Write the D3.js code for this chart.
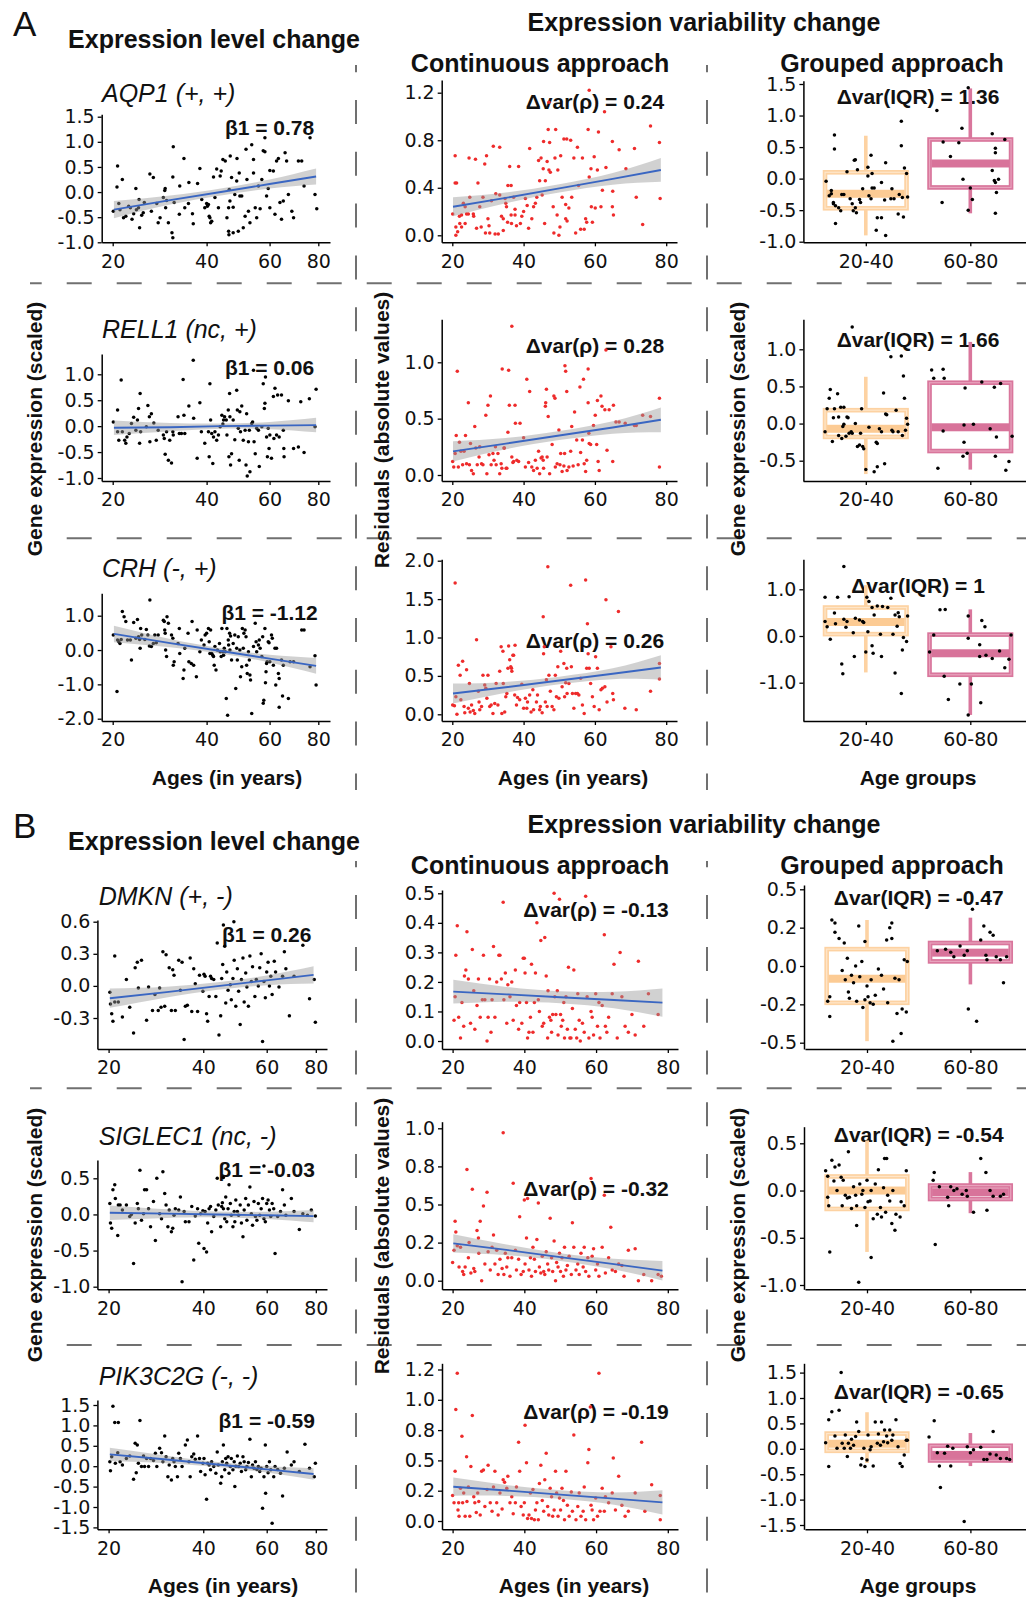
<!DOCTYPE html>
<html lang="en">
<head>
<meta charset="UTF-8">
<title>Expression level and variability change</title>
<script src="https://d3js.org/d3.v7.min.js"></script>
<style>
  body { margin: 0; background: #fff; }
  svg { display: block; }
</style>
</head>
<body>
<svg id="fig"></svg>
<script>
// points are written as "age value" pairs (or "group-position value" for the grouped panels)
const parsePts = s => s.trim().split(/\s*,\s*/).map(p => p.trim().split(/\s+/).map(Number));

const groups = ["20-40", "60-80"];
const lvlFitAges = [20.2, 31, 44, 60, 79];
const resFitAges = [20.2, 35, 50, 65, 78.5];

// ---------- A: AQP1 ----------
const aqp1Lvl = parsePts(`20.1 -.38,20.7 .1,20.8 .52,21 -.23,21.2 -.35,21.6 .25,21.8 -.51,22.2 -.48,22.7 -.28,23 -.31,23.3 -.54,23.6 -.43,24 .07,24.1 -.35,24.5 -.31,24.6 -.15,24.7 -.71,25.1 -.46,25.4 -.41,25.6 -.21,26.7 .36,27 -.38,27.4 .29,28.1 -.23,28.4 -.61,28.8 -.51,29.5 -.11,29.8 .03,29.9 .07,30 -.31,30.2 -.17,30.6 -.61,31.4 -.81,31.6 -.91,31.7 .9,31.6 .3,31.9 -.21,33.1 -.44,33.2 .12,34.2 .67,34.4 -.31,35.3 -.23,35.4 .19,36.3 -.43,36.5 -.63,37.6 .17,38.2 .47,38.7 -.15,39.5 -.31,40 -.23,40.2 -.28,40.5 -.25,40.7 -.48,40.9 -.51,41.1 -.61,41.4 -.58,41.9 .3,42.3 -.11,42.8 .46,43.3 -.31,43.8 .32,44.1 .42,44.6 .65,45.3 .62,45.8 -.51,46.3 -.78,46.4 -.85,46.3 -.31,46.5 .05,46.7 -.18,46.8 .72,47.2 .29,47.7 -.81,47.7 -.3,48.2 -.05,48.8 .22,48.9 .67,49.3 -.78,49.6 .38,49.8 -.08,50.4 -.08,50.9 -.71,51.5 -.48,51.8 .85,52.1 .25,52.6 -.38,53.1 -.61,53.7 .94,54.3 .65,54.3 .38,54.9 -.31,55.4 -.51,56 .12,56.6 -.33,57.2 .25,57.7 .82,58.3 .8,58.3 1.08,58.9 -.08,59.5 .07,60.1 .43,60.1 -.31,61.4 .42,62 -.44,62.6 .62,63.3 .67,63.9 -.21,64.5 -.54,65.2 -.18,65.9 .78,66.5 .62,67.2 -.05,68.6 -.38,69.3 -.51,71.3 .62,72.7 .62,73.7 .12,76.3 1.08,78.5 -.05,79.3 -.33`);
const aqp1LvlFit = [-0.35, -0.16, 0.0, 0.16, 0.31];
const aqp1LvlHalf = [0.17, 0.09, 0.07, 0.09, 0.16];

const aqp1Res = parsePts(`20.1 .18,20.8 .67,20.8 .44,21.2 .44,21 .07,21 0,21.5 .03,22 .16,22.1 .1,22.6 .17,22.6 .07,23.1 .27,23.6 .24,23.6 .1,24 .18,24.5 .18,24.7 .65,24.9 .32,25.9 .18,26 .16,26.5 .64,26.8 .06,27.2 .44,27.7 .24,28.1 .07,28.6 .32,29.1 .6,29.3 .02,29.6 .67,30 .14,30.3 .08,30.5 .02,31 .29,31.5 .75,32 .01,32.2 .35,32.9 .01,33.3 .74,33.3 .34,33.8 .16,34.3 .14,35 .27,35.2 .24,35.6 .42,36.1 .58,36.5 .17,36.6 .1,37.6 .22,38 .08,34.3 .04,34.8 .31,35.5 .11,36.5 .42,37.2 .32,37.6 .17,38.6 .58,39.1 .1,39.5 .16,40 .2,40.5 .31,41 .25,41.4 .06,41.7 .73,42.3 .14,42.8 .24,43.3 .27,43.7 .32,44.2 .63,44.5 .46,44.9 .65,45.2 .34,45.5 .56,45.6 .79,45.9 .1,46.1 .46,46.6 .62,46.9 .89,47.1 .55,47.3 .78,47.5 .53,48.3 .24,48.5 .02,48.8 .65,49 .89,49.4 .17,49.6 .55,49.9 0,50.2 .07,50.4 .67,50.8 .32,51.3 .81,51.8 .14,51.8 .26,52.1 .81,52.2 .12,52.7 .23,53.2 .8,53.5 .32,54.1 .65,54.6 .02,55.1 .74,55.4 .42,56 .05,56.5 .65,57 .05,57.4 .14,57.7 .11,58.1 .89,58.4 .49,58.9 .56,59 .24,59.3 .11,59.8 .66,60.1 .23,60.7 .55,61 .87,61.7 .24,62.1 .38,63.1 .57,64.9 .79,64.9 .24,65.2 .17,65 .37,66.8 .72,68.7 .56,71.1 .73,71.6 .32,73.4 .09,75.6 .92,78.1 .78,78.3 .31,62.7 1.04,58.4 1.22,47.1 1.12`);
const aqp1ResFit = [0.24, 0.315, 0.395, 0.475, 0.55];
const aqp1ResHalf = [0.08, 0.045, 0.035, 0.05, 0.1];

const aqp1Grp = parsePts(`.62 -.04,.65 -.27,.67 -.24,.67 -.19,.69 -.38,.7 .69,.7 .47,.69 -.4,.71 -.43,.71 -.71,.74 -.46,.76 -.51,.77 -.25,.79 -.25,.82 .11,.85 -.32,.87 -.4,.89 .29,.9 .3,.9 -.46,.88 -.51,.91 -.54,.92 .14,.94 -.33,.95 -.38,.97 -.16,1.02 .04,1.02 .18,1.03 -.27,1.05 .37,1.05 -.32,1.06 .08,1.06 -.15,1.08 -.15,1.1 -.82,1.11 -.62,1.15 -.06,1.15 -.62,1.18 -.34,1.19 .25,1.19 -.9,1.24 -.32,1.25 -.16,1.27 -.32,1.31 -.56,1.32 -.25,1.34 .91,1.34 .52,1.35 -.3,1.36 -.61,1.37 .17,1.39 .08,1.4 -.29,1.68 1.08,1.73 -.38,1.74 .58,1.81 .35,1.89 .57,1.92 .8,1.93 -.01,1.98 1.44,2 -.15,2.02 -.33,1.98 -.5,2.21 .71,2.24 .48,2.24 .41,2.21 .13,2.23 -.03,2.24 -.06,2.27 -.01,2.25 -.22,2.24 -.55,2.33 .62`);
// [lower whisker, Q1, median, Q3, upper whisker] per age group
const aqp1Box = [[-0.9, -0.47, -0.24, 0.1, 0.68], [-0.55, -0.14, 0.24, 0.62, 1.43]];

// ---------- A: RELL1 ----------
const rell1Lvl = parsePts(`20.1 .08,20.8 .31,20.8 -.11,21 -.27,21.4 .89,21.6 -.11,22 -.27,22.2 -.33,22.4 -.21,22.8 -.14,23.2 .05,23.6 .17,24 -.08,24.3 .12,24.5 .34,24.7 -.33,24.8 .63,24.9 -.11,26 -.01,26.3 .4,26.6 .18,26.7 -.3,27 .24,27.5 .06,28 -.27,28.4 -.08,29.5 -.17,29.7 -.24,29.9 -.54,30.2 -.11,30.6 -.66,30.9 -.27,31.3 -.71,31.6 -.11,31.7 -.17,32.8 .18,33.1 -.14,33.6 -.14,34 .9,34.2 .21,34.4 -.14,35.4 .39,36.5 1.27,36.6 .15,37.5 -.62,38.2 .45,38.6 -.11,39.5 -.33,40.5 -.11,40.7 -.59,40.9 .82,41.1 .12,41.4 -.14,41.7 -.72,41.9 -.21,42.3 -.11,42.8 -.27,43.3 -.17,43.8 -.01,44.3 .21,44.6 .04,44.8 .12,45.1 .18,45.6 .12,45.8 -.17,46.2 .31,46.4 -.59,46.6 .63,46.7 .18,46.9 -.75,47.2 -.53,47.7 .12,48.2 -.26,48.8 .69,49 .31,49.3 -.04,49.6 -.66,49.8 .28,50 -.11,50.4 .39,50.9 -.27,51.5 -.08,51.8 -.75,52 .24,52.2 -.96,52.6 -.3,52.9 -.08,53.1 -.88,53.7 .05,54 .08,54.3 1.08,54.5 -.3,54.9 -.53,55.4 -.04,56 -.08,56.3 -.78,57.2 -.01,57.7 .82,58.1 .34,58.3 .44,58.5 .95,58.9 -.21,59.2 -.59,59.5 -.04,59.8 -.43,60.1 -.17,60.7 -.62,61.4 .57,61.6 -.24,62 .73,62.6 -.17,63 .6,63.6 -.21,64.5 .6,65.2 -.08,65.4 -.43,65.5 -.59,67.2 .49,69.3 -.43,71.3 -.4,72.3 .47,73.7 -.51,76 .53,78.5 -.01,79 .71`);
const rell1LvlFit = [-0.03, -0.02, 0.0, 0.01, 0.02];
const rell1LvlHalf = [0.14, 0.08, 0.05, 0.07, 0.14];

const rell1Res = parsePts(`20.1 .12,20.4 .07,20.8 .19,21.1 .35,21.4 .92,21.7 .07,22 .29,22.4 .21,22.9 .09,23.3 .21,23.7 .35,24 .1,24.5 .64,24.8 .09,25.1 .28,25.4 .04,25.9 .01,26.3 .43,26.6 .24,27 .09,27.5 .16,27.7 .25,28.2 .1,28.6 .09,29.4 .53,29.7 .01,30 .62,30.3 .18,30.7 .7,30.9 .09,31.4 .19,31.7 .13,32.1 .25,32.3 .09,32.8 .19,33.3 .01,33.7 .1,34 .94,34.6 .24,35.1 .06,35.6 .38,36 .62,37 .11,37.7 .46,38.1 .13,33.9 .06,34.5 .24,35.3 .06,35.8 .93,36.7 .16,37.2 .12,37.6 .62,38.6 .12,39 .46,40 .33,40.5 .07,40.9 .85,41.4 .11,41.7 .74,42.3 .07,42.8 .04,43.3 .13,43.8 .06,44.2 .21,44.5 .01,44.9 .15,45.2 .16,45.5 .13,45.6 .06,46.1 .61,46.2 .64,46.4 .76,46.6 .16,46.9 .52,47.3 .01,48 .27,48.5 .7,48.8 .68,48.9 .07,49.4 .1,49.9 .4,50.2 .09,50.4 .19,50.8 .03,51.3 .08,51.5 .19,51.6 .97,51.8 .92,52.1 .74,52.2 .04,52.7 .07,53.2 .21,53.5 .43,53.9 .08,54.3 .56,54.9 .31,55.3 .09,55.8 .78,56 .2,56.5 .31,56.8 .85,57 .1,57.4 .03,57.7 .13,58.1 .94,58.1 .64,58.3 .37,58.4 .28,58.8 .27,59.6 .44,60.1 .53,60.5 .27,60.7 .66,60.9 .12,61.2 .04,61.7 .7,62 .61,62.8 .58,63.4 .22,64 .58,65 .12,65.2 .62,65.9 .47,66.8 .47,68.5 .46,71.1 .44,71.6 .44,73.4 .53,75.6 .52,78.1 .68,78.1 .07,63.1 1.11,36.7 1.32`);
const rell1ResFit = [0.21, 0.278, 0.35, 0.422, 0.49];
const rell1ResHalf = [0.09, 0.05, 0.04, 0.055, 0.11];

const rell1Grp = parsePts(`.61 -.11,.63 .2,.65 .34,.66 .46,.68 -.24,.69 .08,.7 .2,.73 .4,.74 -.16,.74 .09,.76 .22,.77 -.2,.78 -.04,.79 .22,.79 -.01,.81 -.17,.82 .09,.83 .08,.84 -.13,.86 -.11,.87 -.13,.9 0,.92 -.31,.94 -.29,.95 -.13,.96 .2,.97 -.31,.98 -.34,1 -.62,1.03 -.05,1.08 -.65,1.1 -.25,1.11 -.27,1.11 -.58,1.13 -.07,1.15 -.11,1.17 .41,1.18 -.54,1.19 .13,1.2 .12,1.24 .9,1.25 -.09,1.26 -.11,1.29 .18,1.31 -.11,1.34 .91,1.36 .64,1.37 .34,1.39 .07,1.4 -.01,1.38 -.09,1.35 -.16,.87 1.3,1.63 .72,1.65 .61,1.69 -.6,1.74 .73,1.75 .61,1.74 -.1,1.94 -.25,1.94 -.02,1.97 -.4,1.93 -.44,1.95 .48,2.03 -.01,2.11 .56,2.19 -.07,2.23 .49,2.24 -.44,2.25 -.18,2.29 .54,2.34 -.63,2.37 -.51,2.4 -.17`);
const rell1Box = [[-0.68, -0.18, -0.07, 0.18, 0.63], [-0.62, -0.37, -0.05, 0.55, 1.1]];

// ---------- A: CRH ----------
const crhLvl = parsePts(`20.1 .44,20.7 -1.21,20.8 .29,21 .24,21.2 .19,21.4 .31,21.6 1.12,21.9 .97,22.2 .83,22.5 .29,23 .29,23.2 -.29,23.6 .8,24 .34,24.3 .89,24.5 .39,24.7 .31,24.8 .05,24.9 .63,25.1 .44,25.7 .31,26 .6,26.3 .44,26.6 .12,26.7 1.46,27 .1,27.4 .19,27.7 .44,28 .21,28.4 .44,29.5 .87,29.7 .83,29.8 .58,29.9 .49,30 0,30.2 -.19,30.3 .97,30.6 .78,31.3 .44,31.6 .34,31.7 -.44,31.9 -.34,32.8 .19,33.1 .63,33.2 -.1,34 -.83,34.2 -.58,34.4 .05,35.2 .49,35.4 -.34,36 -.39,36.2 .83,36.6 -.44,37.3 -.78,37.5 .58,38.2 -.05,38.6 .29,39.3 .15,39.6 .44,40 .49,40.5 .63,40.7 .24,40.9 -.1,41.1 .58,41.4 -.1,41.7 -.15,41.9 -.19,42.1 -.44,42.3 .1,42.6 -.58,43 0,43.6 .19,43.8 -.05,44.1 -.19,44.3 .63,44.6 -.05,44.8 -.15,45 .05,45.3 -.05,45.6 -1.41,45.8 .63,46 -1.9,46.2 .29,46.3 .15,46.6 .49,46.7 0,46.9 .41,47.2 -.29,47.7 .19,48.2 .44,48.5 -1.12,48.8 .05,49 -.29,49.3 .39,49.8 0,50 -.78,50.4 -.49,50.6 .63,50.9 .05,51.1 .49,51.5 .58,51.8 .39,52 -.44,52.2 -.68,52.6 -.05,52.9 -.29,53.1 -.73,53.3 -.87,53.7 -1.85,54.3 .1,54.9 .78,55.2 .24,55.4 -.05,56 .15,56.3 .29,56.6 .05,57.2 -.19,57.5 .39,57.7 -1.55,57.9 -1.46,58.3 .63,58.5 -.95,58.7 -.63,58.9 -.39,59.1 -.34,59.5 .24,59.8 .21,60.1 -.34,60.7 .44,61 .34,61.4 -.44,62 .05,62.3 -1.02,62.6 .05,63.3 -.68,63.6 -.83,63.6 -1.67,64.5 -.29,65.2 -.44,64.9 -1.34,67.2 -1.41,67.9 -.34,69.3 -.34,72.7 .58,73.7 .58,76.3 -.49,78.5 -.17,79 -1.02`);
const crhLvlFit = [0.47, 0.2, -0.03, -0.25, -0.46];
const crhLvlHalf = [0.24, 0.12, 0.08, 0.11, 0.23];

const crhRes = parsePts(`20.1 .12,20.6 .11,20.8 1.71,21 .23,21.3 0,21.7 .64,22.2 .51,22.4 .19,22.9 .69,23.3 .1,23.5 .02,24 .58,24.5 .08,24.8 .4,25 .03,25.4 .12,25.9 .05,26.3 .01,26.8 .97,27.3 .3,27.5 .16,27.7 .06,28.2 .1,28.6 .51,29.1 .38,29.4 .34,29.7 .21,30 .51,30.5 .1,30.9 .12,31.4 .01,31.9 .14,32.3 .4,32.8 .12,33.3 .56,33.7 .88,34.2 .82,34.7 .03,35 .23,35.6 .6,36.1 .71,36.6 .6,37 .77,37.5 .25,38 .12,33.9 .01,34.3 .4,35.3 .27,35.8 .89,36.4 .62,36.7 .56,37.2 .77,37.6 .9,38.3 .22,38.9 .19,39.5 .39,40 .08,40.5 .21,40.9 .08,41.1 .16,41.7 .25,42.1 .03,42.6 .32,42.8 .06,43.6 .16,43.9 .25,44.5 .06,44.7 .1,45.2 .02,45.5 1.27,45.6 .79,45.8 .88,46.1 .16,46.4 .45,46.6 .1,46.8 1.92,47.1 .51,47.5 .3,48 .1,48.5 .06,48.9 .51,49.2 .23,49.6 .62,49.9 .21,50.4 .82,50.8 .36,51.3 .66,51.5 .23,51.8 .41,52.1 .6,52.2 .27,52.7 .4,53.2 1.68,53.4 .62,53.7 .27,54.1 .08,54.6 .27,55.1 .27,55.5 .25,56 .47,56.5 .12,57 .01,57.4 1.75,57.7 .6,57.9 1.18,58.1 .79,58.4 .6,58.8 .4,59.3 .23,59.8 .1,60.2 .75,60.7 .6,61.2 .06,61.7 .32,62.1 .34,62.8 .36,63.1 1.49,63.4 .16,64.5 .88,65 .27,65.2 .19,66.6 1.34,68.4 .08,71.6 .06,75.6 .3,78.1 .66,78.1 .46`);
const crhResFit = [0.27, 0.352, 0.44, 0.528, 0.61];
const crhResHalf = [0.13, 0.07, 0.05, 0.07, 0.16];

const crhGrp = parsePts(`.61 .83,.61 .31,.63 .2,.66 -.07,.7 .49,.71 .26,.73 .83,.77 -.6,.78 -.81,.79 .36,.81 .19,.82 .31,.84 .84,.88 .07,.89 -.44,.9 .38,.94 .34,.97 .31,.98 .29,1 -.34,1.01 .83,1.02 .09,1.03 .74,1.06 .61,1.06 -.21,1.07 -.37,1.08 .45,1.11 .64,1.14 .04,1.15 -.44,1.16 .63,1.21 .61,1.24 .81,1.26 .04,1.28 .45,1.28 -.79,1.3 .21,1.31 .5,1.32 .41,1.34 -1.23,1.35 -.3,1.36 -.03,1.39 -.12,1.4 .43,.79 1.49,1.61 -.34,1.65 .02,1.71 .56,1.76 .57,1.75 -.86,1.79 -1.36,1.9 -1.03,1.98 -.05,1.98 .43,1.98 -1.69,2.01 -1.03,2.09 -.19,2.09 -.44,2.1 -1.43,2.11 .33,2.14 .2,2.15 -.41,2.21 -.48,2.28 -.32,2.33 -.68,2.37 -.5,2.39 .02`);
const crhBox = [[-0.78, 0.04, 0.3, 0.61, 1.09], [-1.69, -0.83, -0.37, 0.03, 0.57]];

// ---------- B: DMKN ----------
const dmknLvl = parsePts(`20.2 -.06,20.3 -.17,20.5 -.26,20.7 -.33,21 .28,21 -.15,21.6 -.15,22.3 -.29,23 .06,23.6 -.2,24.3 -.44,24.6 .17,25 .22,25.2 -.02,25.8 .24,26.8 -.32,27.2 -.01,28 -.23,28.5 -.08,29.2 -.23,29.5 -.02,29.8 -.2,30.2 .32,30.6 -.19,30.9 .29,31.6 .17,32.1 -.23,32.4 .15,32.7 .1,33 -.23,33.8 .24,34.2 -.04,34.6 .22,35.1 -.5,35.4 -.19,35.9 -.18,36.6 .26,37 -.24,37.5 .16,37.9 .02,38.5 -.24,39 .1,39.9 -.05,40.2 .11,40.5 .09,40.9 -.26,41.2 -.33,41.6 -.1,42 .09,42.3 .07,42.9 .06,43.5 -.1,43.9 .4,44.4 -.46,44.9 -.28,45.2 .07,45.5 .2,45.7 .57,46.1 .37,46.4 -.16,46.7 .13,47.1 -.04,47.8 .01,48.1 -.13,48.6 .07,48.9 .6,49 .24,49.5 -.19,50 .16,50.4 -.05,50.9 -.36,51.3 .06,51.8 .26,52.2 -.15,52.7 .12,53.1 -.01,53.6 -.19,54.1 .28,54.6 .04,55 .18,55.8 -.1,56.3 .06,57 0,57.5 .17,58 .3,58.5 -.52,59 .04,59.5 -.11,60 .13,60.5 .22,61 0,61.5 .09,62 -.08,62.8 .23,63.3 .13,64.6 -.01,66 .09,66.7 .32,67.3 .16,68.7 -.28,70.6 .09,74.3 .38,77.2 -.12,79.3 .06,79.8 -.34`);
const dmknLvlFit = [-0.115, -0.058, -0.002, 0.052, 0.103];
const dmknLvlHalf = [0.09, 0.05, 0.035, 0.045, 0.08];

const dmknRes = parsePts(`20.4 .07,20.7 .15,20.9 .29,21.3 .39,21.7 .08,22.2 .01,22.6 .13,23.1 .05,23.3 .22,23.7 .24,24 .37,24.4 .21,25 .06,25.5 .31,25.9 .17,26.2 .04,26.8 .12,27.2 .21,27.7 .08,28.3 .14,28.6 .29,29 .14,29.6 0,29.9 .08,30.3 .21,30.7 .03,31 .14,31.4 .32,31.8 .08,32.3 .2,32.9 .29,33.2 .29,33.6 .21,34.1 .47,34.3 .14,34.7 .23,35.1 .06,35.4 .19,36 .15,36.5 .2,36.9 .07,37.5 .24,37.8 .12,38.4 .04,38.7 .13,39.3 .06,39.7 .28,40 .28,40.2 .23,40.6 .13,40.9 .01,41.3 .03,41.7 .08,42 .26,42.4 .03,42.8 .13,43.1 .23,43.5 .4,43.9 .14,44.2 .1,44.6 .34,45 .05,45.4 .06,45.7 .35,46.1 .22,46.5 .01,46.6 .17,47 .08,47.4 .07,47.6 .03,47.9 .09,48.3 .5,48.5 .15,48.8 .09,49.2 .17,49.4 .02,49.8 .48,50.1 .09,50.3 .05,50.7 .07,51 .13,51.2 .01,51.6 .15,52 .04,52.3 .25,52.7 .01,53 .01,53.4 .11,53.8 .24,54.2 .04,54.6 .01,54.9 .16,55.3 .07,55.6 0,56.2 .06,56.7 .03,57.1 .49,57.5 .15,58 .01,58.6 .1,58.9 .08,59.3 .02,59.9 .16,60.4 .05,60.8 .13,61.1 .01,61.7 .12,62.3 .36,62.6 .05,63 .03,63.5 .08,64.5 .16,65 .26,65.9 .01,66.7 .3,67.2 .15,68.1 .05,69 .03,70 .09,70.9 .02,71.8 .27,73.3 .05,74.6 .16,77.3 .09`);
const dmknResFit = [0.167, 0.158, 0.148, 0.139, 0.13];
const dmknResHalf = [0.04, 0.025, 0.02, 0.028, 0.048];

const dmknGrp = parsePts(`.62 -.23,.64 -.33,.66 .3,.69 .28,.64 -.2,.69 .22,.73 .18,.76 -.03,.78 .15,.79 -.09,.81 .05,.82 -.17,.83 -.21,.85 -.06,.87 -.11,.89 0,.9 -.23,.92 .26,.93 -.07,.95 .03,.96 -.27,.98 .16,.98 -.22,1 -.13,1.01 -.2,1.03 -.24,1.04 -.09,1.06 -.25,1.08 -.19,1.11 -.02,1.14 -.06,1.16 -.15,1.19 .17,1.2 -.24,1.22 .25,1.24 .18,1.24 .28,1.27 -.08,1.29 -.31,1.31 -.09,1.33 -.44,1.34 -.28,1.36 .04,1.38 -.3,1.39 .03,1.25 -.49,1.68 .1,1.76 .11,1.81 .09,1.84 .06,1.9 .13,1.94 .07,1.97 .1,1.98 -.28,2.02 .37,2.06 -.36,2.1 .17,2.13 .26,2.15 .07,2.16 .04,2.19 .22,2.22 .2,2.25 .06,2.29 .04,2.32 -.11,2.35 .06,2.17 .46`);
const dmknBox = [[-0.49, -0.24, -0.083, 0.11, 0.3], [-0.12, 0.03, 0.087, 0.15, 0.315]];

// ---------- B: SIGLEC1 ----------
const sig1Lvl = parsePts(`20.2 .15,20.3 -.12,20.5 -.19,20.7 .34,21 .41,21.1 .22,21.5 -.29,21.6 .13,21.9 .13,22.3 .06,23 .13,23.6 -.03,23.9 0,24.3 -.68,24.6 -.12,25 .15,25.2 .08,25.5 .61,25.8 -.08,26.2 .01,26.4 .34,26.8 .34,27.2 .08,27.6 -.17,28.2 .18,28.6 -.36,28.9 .5,29.5 .01,29.9 -.06,30.2 .59,30.6 .29,30.9 .13,31.3 -.17,31.6 .06,32.1 -.24,32.4 -.19,32.7 -.01,33 .08,33.8 .06,34.2 .24,34.6 -.93,35.1 .04,35.4 -.1,36.3 -.1,37 .11,37.5 -.63,37.9 -.02,38.5 .08,38.8 -.4,39.3 .01,39.9 .05,40.2 -.47,40.5 .04,40.9 -.52,41.2 -.12,41.6 .08,42 .11,42.3 -.24,42.9 -.03,43.5 .06,43.9 .5,44.2 .13,44.9 -.17,45.2 .11,45.4 .16,45.7 .08,45.7 .51,46.1 -.06,46.4 .24,46.7 -.1,47.1 .08,47.4 .41,47.8 .15,48.1 -.01,48.6 -.17,49 .04,49.2 -.1,49.5 .2,50 .04,50.4 -.01,50.9 .13,51.3 -.12,51.8 -.31,52.2 .06,52.7 .22,53.1 -.08,53.6 .13,54.1 .38,54.6 .01,55 -.15,55.5 .18,56 -.03,56.5 -.08,57 .15,57.5 -.01,58 .08,58.5 .22,59 -.06,59 .67,59.5 -.1,60 .15,60.5 .2,61 .06,61.5 -.03,62 .15,62.6 .08,63.1 -.54,64.1 -.03,65.2 .04,66 .34,66.7 .13,67.3 -.01,69.5 .22,70.6 .04,72.8 -.21,74.3 .01,76.3 -.01,78 .06,79.8 -.02`);
const sig1LvlFit = [0.023, 0.011, -0.001, -0.012, -0.023];
const sig1LvlHalf = [0.1, 0.06, 0.04, 0.05, 0.085];

const sig1Res = parsePts(`20 .12,20.4 .2,20.7 .39,20.9 .32,21.3 .23,21.8 .09,22.2 .22,22.8 .06,23.1 .04,23.5 .09,24 .73,24.4 .15,24.6 .25,25.1 .05,25.5 .6,25.9 .08,26.2 .06,26.8 .33,27.2 .28,27.3 .18,27.7 .39,28.1 0,28.6 .49,29 .11,29.6 .58,29.9 .19,30.5 .07,31 .22,31.4 .3,31.8 .11,32.3 .2,32.7 .04,33.2 .14,33.8 .08,34.1 .97,34.3 .04,34.7 .18,35.1 .09,35.4 .15,36 .03,36.5 .15,36.9 .64,37.5 .2,37.8 .07,38.4 .14,38.7 .42,39.1 .04,39.7 .06,40 .53,40.2 .11,40.6 .28,40.9 .54,41.3 .07,41.7 .15,42 .03,42.4 .22,42.8 .14,43.1 .06,43.5 .27,43.9 .51,44.2 .09,44.6 .05,45 .16,45.4 .06,45.7 .04,46.1 .19,46.5 .11,46.8 .07,47.2 .41,47.6 .15,47.9 .06,48.3 .26,48.7 0,49 .12,49.4 .09,49.8 .18,50.1 .06,50.5 .15,50.9 .03,51.2 .22,51.6 .07,52 .1,52.5 .16,53.1 .04,53.4 .38,53.8 .22,54.4 .07,54.9 .11,55.3 .04,55.8 .18,56.4 .09,56.7 .22,57.1 .06,57.7 .15,58 .03,58.6 .67,58.9 .16,59.3 .21,59.9 .07,60.4 .11,60.8 .03,61.7 .22,62.3 .56,62.6 .05,63.5 .15,64.1 .35,64.5 .07,65.4 .06,66.3 .11,67.2 .1,67.8 .03,69 .2,70.9 .21,71.8 0,73.3 .04,75.5 0,77.3 .04,78.2 .03`);
const sig1ResFit = [0.245, 0.202, 0.155, 0.109, 0.066];
const sig1ResHalf = [0.06, 0.035, 0.025, 0.035, 0.064];

const sig1Grp = parsePts(`.6 .21,.62 .15,.62 -.07,.63 -.16,.64 -.65,.66 .32,.68 .1,.69 .25,.71 0,.73 .27,.75 .14,.76 -.16,.77 .11,.79 -.05,.81 -.08,.82 .41,.83 -.07,.85 -.19,.87 .04,.89 -.05,.9 -.16,.9 -.37,.92 -.97,.93 .07,.95 -.04,.96 0,.98 -.18,1 .11,1.01 -.12,1.03 -.11,1.04 0,1.06 -.3,1.08 .07,1.1 -.25,1.11 .22,1.13 -.18,1.14 -.28,1.16 .03,1.17 .34,1.18 -.23,1.19 .34,1.2 -.05,1.22 -.11,1.24 -.35,1.25 0,1.27 -.42,1.28 -.25,1.32 -.28,1.33 -.12,1.36 -.16,1.38 .21,1.04 -.71,1.64 .11,1.65 .19,1.66 -.57,1.7 .04,1.78 -.07,1.79 -.16,1.81 .04,1.84 0,1.87 .02,1.92 -.04,1.96 0,1.97 -.06,2.1 .34,2.15 .19,2.16 -.21,2.19 0,2.22 -.06,2.29 -.06,2.32 -.04,2.03 -.23`);
const sig1Box = [[-0.65, -0.195, 0.0, 0.149, 0.53], [-0.24, -0.09, -0.018, 0.053, 0.195]];

// ---------- B: PIK3C2G ----------
const pikLvl = parsePts(`20.2 .11,20.3 -.11,20.5 .23,20.7 1.47,21 1.07,21.1 .07,21.5 .33,21.6 1.07,21.9 .11,22.3 .03,23 .19,23.6 .25,24.3 -.32,24.6 .56,24.8 -.16,25 .52,25.2 .07,25.5 1.12,25.8 -.01,26.2 .25,26.4 -.01,26.8 .19,27.2 -.01,27.6 .19,28.2 .14,28.6 .32,28.9 -.01,29.5 .44,29.9 .33,30.2 .11,30.6 .74,30.9 .23,31.3 -.26,31.6 .03,32.1 -.34,32.4 .19,32.7 .11,33 -.01,33.5 -.26,33.8 .32,34.2 .19,34.6 -.01,35.4 .52,35.9 .64,36.3 .11,36.6 -.26,37 .23,37.5 .3,37.9 .17,38.5 .74,39 .19,39.3 -.13,39.9 .07,40.2 .19,40.5 -.21,40.9 -.81,41.2 .07,41.6 .03,42 -.09,42.3 .11,42.9 -.01,43.5 -.17,43.9 .35,44.2 .03,44.9 -.42,45.2 -.26,45.4 .11,45.7 .52,46.1 -.09,46.4 .19,46.7 .07,47.1 .23,47.4 -.17,47.8 -.01,48.1 .19,48.6 -.09,49 .11,49.2 -.5,49.5 0,50 .25,50.4 -.01,50.9 .07,51.3 -.13,51.8 .23,52.2 .11,52.7 -.09,53.1 -.01,53.6 .09,54.1 .66,54.6 -.26,55 .03,55.5 -.05,56 .11,56.5 -.08,57 -.01,57.5 -.13,58 -.05,58.5 -1.03,59 -.26,59.5 .52,59.6 -.66,60 -.01,60.5 -.16,61 .11,61.5 -.09,62 -1.4,62.6 -.26,63.1 -.01,64.1 -.08,65.2 -.17,66 -.73,66.7 -.05,67.8 .35,69.5 .03,70.6 .11,72.8 -.13,75.2 .54,77.2 -.05,79.3 -.26,79.8 .07`);
const pikLvlFit = [0.29, 0.165, 0.042, -0.077, -0.19];
const pikLvlHalf = [0.16, 0.09, 0.06, 0.08, 0.14];

const pikRes = parsePts(`20 .21,20.4 .15,20.7 .41,20.9 .92,21.3 1.22,21.5 .09,21.7 .15,21.8 .04,22.2 .27,22.6 .7,22.8 .15,23.1 .23,23.5 .04,23.9 .53,24 .16,24.4 .28,24.8 .04,25.1 .45,25.5 .87,25.9 .2,26.2 .15,26.6 .07,27 .23,27.3 .16,27.7 .05,28.1 .41,28.6 .42,29 .12,29.6 .26,29.9 .46,30.5 .15,31 .08,31.4 .28,31.8 .41,32.3 .15,32.7 .05,33.2 .23,33.8 .1,34.1 .34,34.5 .32,35.1 .27,35.4 .37,36 .15,36.5 .2,36.9 .06,37.5 .15,37.8 .28,38.4 .65,38.7 .41,39.1 .12,39.7 .05,40 .15,40.2 .79,40.6 .48,40.9 .02,41.3 .05,41.7 .23,42 .02,42.4 .26,42.8 .01,43.1 .09,43.5 .15,43.9 .01,44.2 .31,44.6 .46,45 .17,45.4 .08,45.7 .34,46.1 .56,46.5 .12,46.8 .05,47.2 .27,47.6 .2,47.9 .04,48.3 .09,48.7 .41,49 .23,49.4 .04,49.8 .19,50.1 .09,50.5 .27,50.9 .17,51.2 .01,51.6 .41,52 .13,52.5 .04,53.1 .24,53.4 .08,53.8 .71,54.4 .01,54.9 .12,55.3 .23,55.8 .04,56.4 .08,56.7 .28,57.1 .01,57.7 .48,58 .59,58.4 .94,58.6 .13,58.9 .09,59.3 .01,59.9 .19,60.4 .04,60.8 1.22,61.1 .08,61.7 .27,62.3 .08,62.6 .2,63.5 .15,64.5 .23,64.8 .52,65.4 .09,66.3 .37,67.2 .13,68.1 .04,69 .08,70.9 .23,72.7 .65,73.6 .08,75.5 .3,77.9 .21,77.9 .01`);
const pikResFit = [0.283, 0.252, 0.218, 0.185, 0.154];
const pikResHalf = [0.075, 0.045, 0.035, 0.05, 0.1];

const pikGrp = parsePts(`.6 .12,.63 -.35,.63 .57,.66 .73,.69 .25,.71 .01,.73 .76,.75 1.5,.76 .11,.78 .01,.79 .27,.81 -.15,.82 .11,.84 .01,.85 .19,.87 .07,.89 .24,.9 .53,.92 .34,.94 -.32,.95 -.19,.97 .01,.98 -.35,1 -.22,1.01 .27,1.03 -.02,1.04 .04,1.06 -.34,1.08 .53,1.1 .11,1.11 .29,1.13 .07,1.14 .53,1.16 .14,1.17 .37,1.19 .25,1.2 .12,1.22 .37,1.24 .17,1.25 .27,1.28 .57,1.3 .04,1.32 -.29,1.34 -.35,1.36 -.12,1.38 .17,1.39 .17,1.6 .23,1.65 .55,1.68 -.08,1.7 -.34,1.71 -.76,1.75 -.09,1.78 .05,1.81 -.34,1.83 .01,1.94 -1.43,1.97 .04,2 -.08,2.03 -.02,2.1 .03,2.13 -.21,2.16 -.21,2.19 -.1,2.22 .34,2.25 -.12,2.29 -.19,2.35 -.19,2.38 -.21`);
const pikBox = [[-0.28, -0.04, 0.1, 0.3, 0.72], [-0.34, -0.23, -0.12, 0.06, 0.31]];

// ---------- layout ----------
const W = 1026, H = 1598;
const FF = "'Liberation Sans', Arial, Helvetica, sans-serif";
const TF = "'DejaVu Sans', Verdana, sans-serif";
const boxColors = [
  { main: "#fdd2a2", light: "#fee6ca", med: "#fccb94" },
  { main: "#d9769c", light: "#e8a3bd", med: "#d8739a" }
];

const secA = {
  dy: 0, letter: "A", vStart: 65, vEnd: 790, vPhase: 48.2, hLines: [[283.3, 30], [538.3, 55]],
  cols: [{ ax: 101.7, x20: 112.7, x80: 318.3, right: 330 },
         { ax: 441.7, x20: 452.3, x80: 666.2, right: 677 },
         { ax: 803.4, g1: 865.8, g2: 970.3 }],
  titleX: 102, ylabY: 429, xlabY: 785, xlabX: [227, 573, 918],
  rows: [
    { title: 101.7, bottom: 242.3, gene: "AQP1 (+, +)",
      lvl: { pts: aqp1Lvl, fit: aqp1LvlFit, half: aqp1LvlHalf, annot: "β1 = 0.78", annY: 135, top: 114.3, ref: [1.5, 116.7, -1, 242.3], ticks: [-1, -0.5, 0, 0.5, 1, 1.5] },
      res: { pts: aqp1Res, fit: aqp1ResFit, half: aqp1ResHalf, annot: "Δvar(ρ) = 0.24", annY: 109.3, top: 80, ref: [1.2, 92.7, 0, 235.3], ticks: [0, 0.4, 0.8, 1.2] },
      grp: { pts: aqp1Grp, box: aqp1Box, annot: "Δvar(IQR) = 1.36", annY: 103.5, top: 80.7, ref: [1.5, 84, -1, 241.7], ticks: [-1, -0.5, 0, 0.5, 1, 1.5] } },
    { title: 338.3, bottom: 481, gene: "RELL1 (nc, +)",
      lvl: { pts: rell1Lvl, fit: rell1LvlFit, half: rell1LvlHalf, annot: "β1 = 0.06", annY: 375, top: 354, ref: [1, 374.3, -1, 478], ticks: [-1, -0.5, 0, 0.5, 1] },
      res: { pts: rell1Res, fit: rell1ResFit, half: rell1ResHalf, annot: "Δvar(ρ) = 0.28", annY: 353.3, top: 319.3, ref: [1, 362.3, 0, 475], ticks: [0, 0.5, 1] },
      grp: { pts: rell1Grp, box: rell1Box, annot: "Δvar(IQR) = 1.66", annY: 346.7, top: 319.3, ref: [1, 349.3, -0.5, 460.7], ticks: [-0.5, 0, 0.5, 1] } },
    { title: 577.3, bottom: 721, gene: "CRH (-, +)",
      lvl: { pts: crhLvl, fit: crhLvlFit, half: crhLvlHalf, annot: "β1 = -1.12", annY: 620, top: 593.3, ref: [1, 615.7, -2, 718.7], ticks: [-2, -1, 0, 1] },
      res: { pts: crhRes, fit: crhResFit, half: crhResHalf, annot: "Δvar(ρ) = 0.26", annY: 648.3, top: 559.3, ref: [2, 560.7, 0, 714.3], ticks: [0, 0.5, 1, 1.5, 2] },
      grp: { pts: crhGrp, box: crhBox, annot: "Δvar(IQR) = 1", annY: 593.3, top: 559.3, ref: [1, 589.3, -1, 682.7], ticks: [-1, 0, 1] } }
  ]
};

const secB = {
  dy: 802, letter: "B", vStart: 861, vEnd: 1598, vPhase: 843.3, hLines: [[1088.3, 30], [1345, 55]],
  cols: [{ ax: 97.4, x20: 108.6, x80: 315.8, right: 327 },
         { ax: 442, x20: 452.6, x80: 667.8, right: 678 },
         { ax: 804, g1: 867, g2: 970.4 }],
  titleX: 98.7, ylabY: 1235, xlabY: 1593, xlabX: [223, 574, 918],
  rows: [
    { title: 905, bottom: 1049, gene: "DMKN (+, -)",
      lvl: { pts: dmknLvl, fit: dmknLvlFit, half: dmknLvlHalf, annot: "β1 = 0.26", annY: 941.7, top: 920, ref: [0.6, 921.7, -0.3, 1018], ticks: [-0.3, 0, 0.3, 0.6] },
      res: { pts: dmknRes, fit: dmknResFit, half: dmknResHalf, annot: "Δvar(ρ) = -0.13", annY: 916.7, top: 890, ref: [0.5, 893.3, 0, 1041], ticks: [0, 0.1, 0.2, 0.3, 0.4, 0.5] },
      grp: { pts: dmknGrp, box: dmknBox, annot: "Δvar(IQR) = -0.47", annY: 905, top: 885, ref: [0.5, 889.3, -0.5, 1042.7], ticks: [-0.5, -0.25, 0, 0.25, 0.5], labels: ["-0.5", "-0.2", "0.0", "0.2", "0.5"] } },
    { title: 1145, bottom: 1289.3, gene: "SIGLEC1 (nc, -)",
      lvl: { pts: sig1Lvl, fit: sig1LvlFit, half: sig1LvlHalf, annot: "β1 = -0.03", annY: 1177.3, top: 1160, ref: [0.5, 1178.3, -1, 1286.7], ticks: [-1, -0.5, 0, 0.5] },
      res: { pts: sig1Res, fit: sig1ResFit, half: sig1ResHalf, annot: "Δvar(ρ) = -0.32", annY: 1196, top: 1121.7, ref: [1, 1128.3, 0, 1280.7], ticks: [0, 0.25, 0.5, 0.75, 1], labels: ["0.0", "0.2", "0.5", "0.8", "1.0"] },
      grp: { pts: sig1Grp, box: sig1Box, annot: "Δvar(IQR) = -0.54", annY: 1141.7, top: 1126.7, ref: [0.5, 1143.3, -1, 1285], ticks: [-1, -0.5, 0, 0.5] } },
    { title: 1385, bottom: 1529.3, gene: "PIK3C2G (-, -)",
      lvl: { pts: pikLvl, fit: pikLvlFit, half: pikLvlHalf, annot: "β1 = -0.59", annY: 1428.3, top: 1400, ref: [1.5, 1405, -1.5, 1527.4], ticks: [-1.5, -1, -0.5, 0, 0.5, 1, 1.5] },
      res: { pts: pikRes, fit: pikResFit, half: pikResHalf, annot: "Δvar(ρ) = -0.19", annY: 1419.3, top: 1363.3, ref: [1.25, 1369.5, 0, 1521], ticks: [0, 0.25, 0.5, 0.75, 1, 1.25], labels: ["0.0", "0.2", "0.5", "0.8", "1.0", "1.2"] },
      grp: { pts: pikGrp, box: pikBox, annot: "Δvar(IQR) = -0.65", annY: 1399.3, top: 1363.3, ref: [1.5, 1372.6, -1.5, 1525], ticks: [-1.5, -1, -0.5, 0, 0.5, 1, 1.5] } }
  ]
};

const svg = d3.select("#fig").attr("width", W).attr("height", H);
svg.append("rect").attr("width", W).attr("height", H).attr("fill", "#fff");

function label(x, y, s, size, o = {}) {
  const t = svg.append("text").attr("x", x).attr("y", y)
    .attr("font-family", FF).attr("font-size", size)
    .attr("font-weight", o.bold ? "bold" : "normal")
    .attr("font-style", o.italic ? "italic" : "normal")
    .attr("text-anchor", o.anchor || "middle")
    .attr("fill", "#111").text(s);
  if (o.rotate) t.attr("transform", `rotate(-90,${x},${y})`);
  return t;
}

function makeY(p, bottom) {
  const s = d3.scaleLinear().domain([p.ref[0], p.ref[2]]).range([p.ref[1], p.ref[3]]);
  return d3.scaleLinear().domain([s.invert(bottom), s.invert(p.top)]).range([bottom, p.top]);
}

function styleAxis(g) {
  g.select(".domain").attr("stroke", "#000").attr("stroke-width", 1.5);
  g.selectAll(".tick line").attr("stroke", "#000").attr("stroke-width", 1.3);
  g.selectAll(".tick text").attr("font-family", TF).attr("font-size", 19).attr("fill", "#111");
}

function yAxis(y, ax, p) {
  const labs = p.labels || p.ticks.map(v => v.toFixed(1));
  const g = svg.append("g").attr("transform", `translate(${ax},0)`)
    .call(d3.axisLeft(y).tickValues(p.ticks).tickFormat((d, i) => labs[i])
      .tickSize(4).tickSizeOuter(0).tickPadding(3));
  styleAxis(g);
}

function xAxis(x, bottom, ticks, labs) {
  const g = svg.append("g").attr("transform", `translate(0,${bottom})`)
    .call(d3.axisBottom(x).tickValues(ticks).tickFormat((d, i) => labs[i])
      .tickSize(4).tickSizeOuter(0).tickPadding(8));
  styleAxis(g);
}

function scatter(sec, r, ci, p, color, fitAges) {
  const c = sec.cols[ci];
  const base = ci === 0 ? d3.scalePow().exponent(0.25) : d3.scaleLinear();
  const x0 = base.copy().domain([20, 80]).range([c.x20, c.x80]);
  const x = base.copy().domain([x0.invert(c.ax), x0.invert(c.right)]).range([c.ax, c.right]);
  const y = makeY(p, r.bottom);

  label(x(60), p.annY, p.annot, 21, { bold: true });

  svg.append("g").selectAll("circle").data(p.pts).join("circle")
    .attr("cx", d => x(d[0])).attr("cy", d => y(d[1])).attr("r", 1.75).attr("fill", color);

  const fit = fitAges.map((a, i) => ({ a, f: p.fit[i], h: p.half[i] }));
  svg.append("path").datum(fit)
    .attr("d", d3.area().x(d => x(d.a)).y0(d => y(d.f - d.h)).y1(d => y(d.f + d.h)).curve(d3.curveNatural))
    .attr("fill", "#999").attr("fill-opacity", 0.45);
  svg.append("path").datum(fit)
    .attr("d", d3.line().x(d => x(d.a)).y(d => y(d.f)))
    .attr("fill", "none").attr("stroke", "#3a66c2").attr("stroke-width", 1.9);

  yAxis(y, c.ax, p);
  xAxis(x, r.bottom, [20, 40, 60, 80], ["20", "40", "60", "80"]);
}

function grouped(sec, r, p) {
  const c = sec.cols[2];
  const x0 = d3.scaleLinear().domain([1, 2]).range([c.g1, c.g2]);
  const x = d3.scaleLinear().domain([0.4, 2.6]).range([x0(0.4), x0(2.6)]);
  const y = makeY(p, r.bottom);

  label(x(1.5), p.annY, p.annot, 21, { bold: true });

  p.box.forEach((b, i) => {
    const cx = i + 1, col = boxColors[i];
    const xl = x(cx - 0.39), xr = x(cx + 0.39);
    [[b[0], b[1]], [b[3], b[4]]].forEach(w => {
      svg.append("line").attr("x1", x(cx)).attr("x2", x(cx))
        .attr("y1", y(w[0])).attr("y2", y(w[1]))
        .attr("stroke", col.main).attr("stroke-width", 3.6);
    });
    svg.append("rect").attr("x", xl).attr("width", xr - xl)
      .attr("y", y(b[3])).attr("height", y(b[1]) - y(b[3]))
      .attr("fill", "#fff").attr("stroke", col.main).attr("stroke-width", 4.6);
    svg.append("rect").attr("x", xl).attr("width", xr - xl)
      .attr("y", y(b[3])).attr("height", y(b[1]) - y(b[3]))
      .attr("fill", "none").attr("stroke", col.light).attr("stroke-width", 1.2);
    svg.append("rect").attr("x", xl + 2).attr("width", xr - xl - 4)
      .attr("y", y(b[2]) - 4).attr("height", 8).attr("fill", col.med);
  });

  svg.append("g").selectAll("circle").data(p.pts).join("circle")
    .attr("cx", d => x(d[0])).attr("cy", d => y(d[1])).attr("r", 1.75).attr("fill", "#000");

  yAxis(y, c.ax, p);
  xAxis(x, r.bottom, [1, 2], groups);
}

function section(sec) {
  // dashed separators
  [356, 707].forEach(xv => {
    svg.append("line").attr("x1", xv).attr("x2", xv).attr("y1", sec.vStart).attr("y2", sec.vEnd)
      .attr("stroke", "#707070").attr("stroke-width", 2)
      .attr("stroke-dasharray", "24 27.8").attr("stroke-dashoffset", sec.vStart - sec.vPhase);
  });
  sec.hLines.forEach(([yv, x1]) => {
    svg.append("line").attr("x1", x1).attr("x2", W).attr("y1", yv).attr("y2", yv)
      .attr("stroke", "#707070").attr("stroke-width", 2)
      .attr("stroke-dasharray", "25 25").attr("stroke-dashoffset", (x1 - 16.7) % 50);
  });

  const d = sec.dy;
  label(13, 36 + d, sec.letter, 35, { anchor: "start" });
  label(214, 48 + d, "Expression level change", 25, { bold: true });
  label(704, 31 + d, "Expression variability change", 25, { bold: true });
  label(540, 71.5 + d, "Continuous approach", 25, { bold: true });
  label(892, 71.5 + d, "Grouped approach", 25, { bold: true });

  sec.rows.forEach(r => {
    label(sec.titleX, r.title, r.gene, 25, { italic: true, anchor: "start" });
    scatter(sec, r, 0, r.lvl, "#000", lvlFitAges);
    scatter(sec, r, 1, r.res, "#ee2b2b", resFitAges);
    grouped(sec, r, r.grp);
  });

  label(42, sec.ylabY, "Gene expression (scaled)", 21, { bold: true, rotate: true });
  label(389, sec.ylabY + 1, "Residuals (absolute values)", 21, { bold: true, rotate: true });
  label(745, sec.ylabY, "Gene expression (scaled)", 21, { bold: true, rotate: true });
  label(sec.xlabX[0], sec.xlabY, "Ages (in years)", 21, { bold: true });
  label(sec.xlabX[1], sec.xlabY, "Ages (in years)", 21, { bold: true });
  label(sec.xlabX[2], sec.xlabY, "Age groups", 21, { bold: true });
}

section(secA);
section(secB);
</script>
</body>
</html>
